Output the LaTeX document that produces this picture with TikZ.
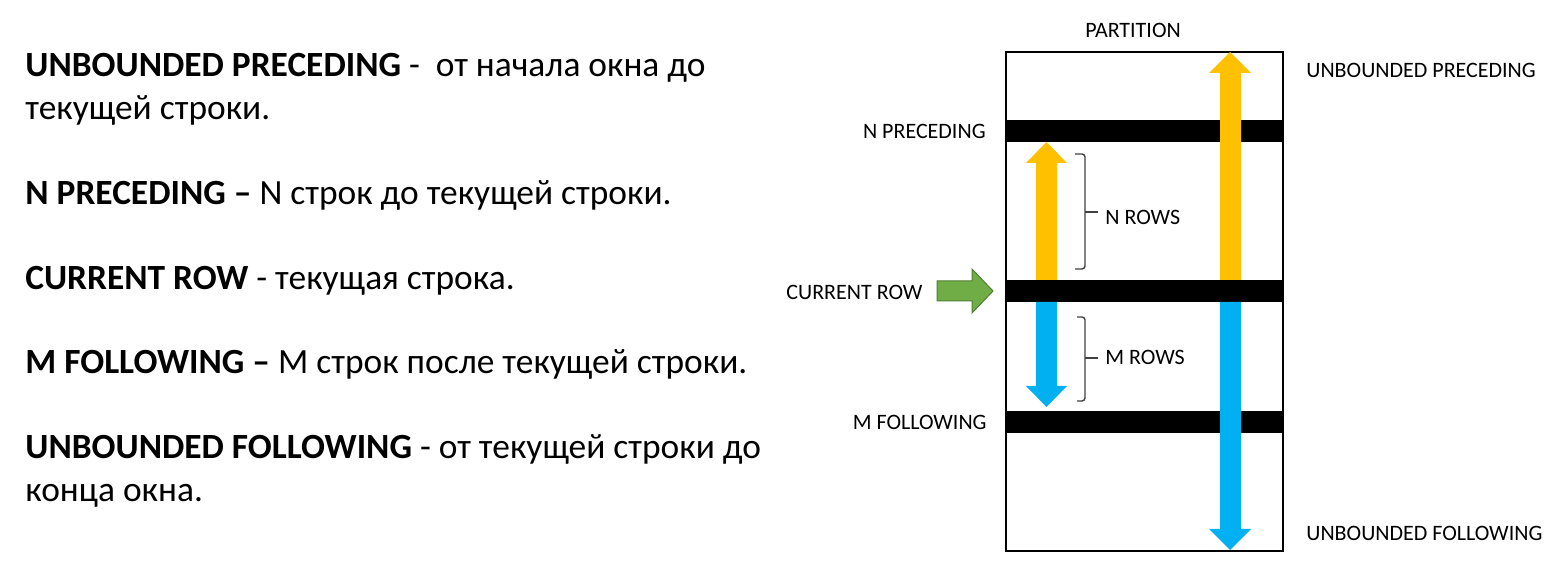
\documentclass[tikz,border=0pt]{standalone}
\usepackage{fontspec}
\setmainfont{Carlito}
\definecolor{ayellow}{HTML}{FFC000}
\definecolor{ablue}{HTML}{00B0F0}
\definecolor{agreen}{HTML}{70AD47}
\definecolor{agreendk}{HTML}{507E32}
\definecolor{bracegray}{HTML}{404040}
\begin{document}
\begin{tikzpicture}[x=0.5pt,y=-0.5pt,
  big/.style={font=\fontsize{17.7}{21}\selectfont, anchor=base west, inner sep=0pt},
  lbl/.style={font=\fontsize{11}{13}\selectfont, inner sep=0pt},
  rowbar/.style={fill=black},
  yarrow/.style={fill=ayellow},
  barrow/.style={fill=ablue},
  bracepath/.style={draw=bracegray, line width=0.7pt, rounded corners=1.5pt}
]
\useasboundingbox (0,0) rectangle (1560,587);

% left text
\node[big] (t1) at (25,77) {\textbf{UNBOUNDED PRECEDING} -\ \ от начала окна до};
\node[big] (t2) at (25,119.5) {текущей строки.};
\node[big] (t3) at (25,204.5) {\textbf{N PRECEDING –} N строк до текущей строки.};
\node[big] (t4) at (25,289.5) {\textbf{CURRENT ROW} - текущая строка.};
\node[big] (t5) at (25,374) {\textbf{M FOLLOWING –} M строк после текущей строки.};
\node[big] (t6) at (25,459) {\textbf{UNBOUNDED FOLLOWING} - от текущей строки до};
\node[big] (t7) at (25,501.5) {конца окна.};

% partition box and row bars
\node[lbl] (part) at (1133,30) {PARTITION};
\fill[rowbar] (1006,120) rectangle (1283,142);
\fill[rowbar] (1006,280) rectangle (1283,302);
\fill[rowbar] (1006,411) rectangle (1283,433);
\draw[line width=1pt] (1006,52) rectangle (1283,551);

% yellow arrows
\fill[yarrow] (1036,280) -- (1036,163) -- (1026,163) -- (1046.5,142) -- (1067,163) -- (1057,163) -- (1057,280) -- cycle;
\fill[yarrow] (1220,280) -- (1220,73) -- (1209,73) -- (1230,52) -- (1251,73) -- (1241,73) -- (1241,280) -- cycle;
% blue arrows
\fill[barrow] (1036,302) -- (1036,386) -- (1026,386) -- (1046.5,407) -- (1067,386) -- (1057,386) -- (1057,302) -- cycle;
\fill[barrow] (1220,302) -- (1220,529) -- (1209,529) -- (1230,550) -- (1251,529) -- (1241,529) -- (1241,302) -- cycle;

% green arrow
\filldraw[fill=agreen, draw=agreendk, line width=0.5pt] (937,281) -- (972,281) -- (972,269) -- (993,291) -- (972,313) -- (972,301) -- (937,301) -- cycle;

% braces
\draw[bracepath] (1075,154) -- (1085,154) -- (1085,269) -- (1075,269);
\draw[bracegray, line width=0.7pt] (1085,212) -- (1098,212);
\node[lbl, anchor=west] (nrows) at (1105,217) {N ROWS};
\draw[bracepath] (1077,317) -- (1085,317) -- (1085,401) -- (1077,401);
\draw[bracegray, line width=0.7pt] (1085,358) -- (1098,358);
\node[lbl, anchor=west] (mrows) at (1105,357) {M ROWS};

% side labels
\node[lbl, anchor=east] (lnp) at (986,131) {N PRECEDING};
\node[lbl, anchor=west] (lcr) at (786,292) {CURRENT ROW};
\node[lbl, anchor=east] (lmf) at (987,422) {M FOLLOWING};
\node[lbl, anchor=west] (lup) at (1306,70) {UNBOUNDED PRECEDING};
\node[lbl, anchor=west] (luf) at (1306,533) {UNBOUNDED FOLLOWING};
\end{tikzpicture}
\end{document}
